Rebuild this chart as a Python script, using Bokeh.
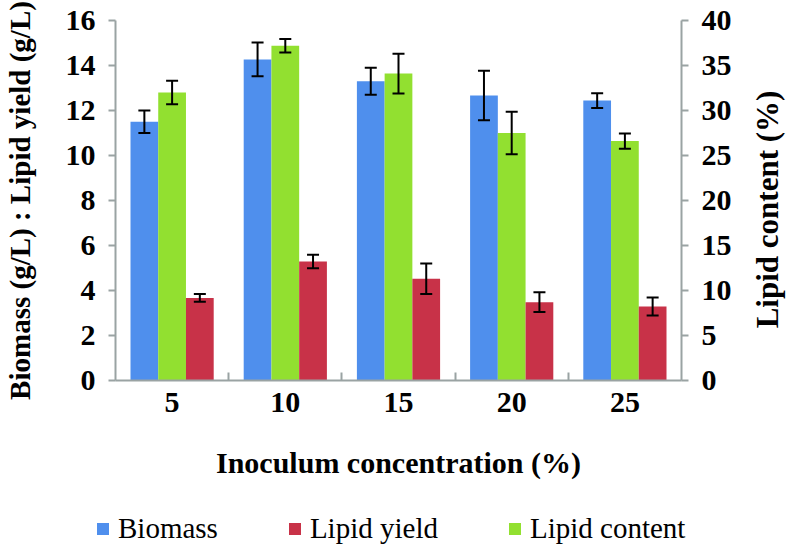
import numpy as np
from bokeh.plotting import figure
from bokeh.layouts import column, row
from bokeh.models import (Range1d, LinearAxis, FixedTicker, ColumnDataSource, Whisker,
                          TeeHead, Legend, LegendItem)
from bokeh.embed import file_html
from bokeh.resources import INLINE

concentrations = ["5", "10", "15", "20", "25"]
biomass = [11.5, 14.27, 13.3, 12.67, 12.44]
biomass_err = [0.5, 0.75, 0.6, 1.1, 0.33]
lipid_yield = [3.67, 5.29, 4.52, 3.48, 3.29]
lipid_yield_err = [0.17, 0.3, 0.68, 0.44, 0.4]
lipid_content = [32.0, 37.2, 34.1, 27.5, 26.6]
lipid_content_err = [1.3, 0.75, 2.2, 2.35, 0.85]
left_ticks = [0, 2, 4, 6, 8, 10, 12, 14, 16]
right_ticks = [0, 5, 10, 15, 20, 25, 30, 35, 40]

BLUE = "#4F8FED"
RED = "#C83248"
GREEN = "#92E030"
AXIS = "#9AA3A3"
FONT = "serif"

n = len(concentrations)
centers = np.arange(n) + 0.5
bw = 0.245

def clean(fig):
    fig.grid.visible = False
    fig.outline_line_color = None
    fig.background_fill_color = "white"
    fig.border_fill_color = "white"
    try:
        fig.frame_align = False
    except Exception:
        pass

p = figure(width=734, height=500, output_backend="svg", toolbar_location=None,
           x_range=Range1d(0, n), y_range=Range1d(0, left_ticks[-1]),
           min_border_left=113, min_border_right=52, min_border_top=20,
           min_border_bottom=120, x_axis_location=None, y_axis_location=None)
p.extra_y_ranges = {"right": Range1d(0, right_ticks[-1])}
clean(p)

def style_axis(ax):
    ax.axis_line_color = AXIS
    ax.axis_line_width = 2
    ax.major_tick_line_color = AXIS
    ax.major_tick_line_width = 2
    ax.minor_tick_line_color = AXIS
    ax.minor_tick_line_width = 2
    ax.major_label_text_font = FONT
    ax.major_label_text_font_style = "bold"
    ax.major_label_text_font_size = "30px"
    ax.major_label_text_color = "black"
    ax.axis_label_text_font = FONT
    ax.axis_label_text_font_style = "bold"
    ax.axis_label_text_font_size = "29px"
    ax.axis_label_text_color = "black"

xax = LinearAxis(ticker=FixedTicker(ticks=list(centers), minor_ticks=list(np.arange(1, n))),
                 axis_label="Inoculum concentration (%)")
xax.major_label_overrides = {float(c): lab for c, lab in zip(centers, concentrations)}
style_axis(xax)
xax.axis_label_text_font_size = "30px"
xax.major_tick_in = 0
xax.major_tick_out = 0
xax.minor_tick_in = 8
xax.minor_tick_out = 0
xax.major_label_standoff = 12
xax.axis_label_standoff = 31
p.add_layout(xax, "below")

lax = LinearAxis(ticker=FixedTicker(ticks=left_ticks), axis_label="Biomass (g/L) : Lipid yield (g/L)")
style_axis(lax)
lax.major_tick_in = 0
lax.major_tick_out = 7
lax.minor_tick_out = 0
lax.major_label_standoff = 13
lax.axis_label_standoff = 27
p.add_layout(lax, "left")

rax = LinearAxis(y_range_name="right", ticker=FixedTicker(ticks=right_ticks))
style_axis(rax)
rax.major_tick_in = 0
rax.major_tick_out = 7
rax.minor_tick_out = 0
rax.major_label_standoff = 13
p.add_layout(rax, "right")

src_b = ColumnDataSource(dict(x=centers - bw, top=biomass,
                              upper=np.array(biomass) + np.array(biomass_err),
                              lower=np.array(biomass) - np.array(biomass_err)))
src_c = ColumnDataSource(dict(x=centers, top=lipid_content,
                              upper=np.array(lipid_content) + np.array(lipid_content_err),
                              lower=np.array(lipid_content) - np.array(lipid_content_err)))
src_y = ColumnDataSource(dict(x=centers + bw, top=lipid_yield,
                              upper=np.array(lipid_yield) + np.array(lipid_yield_err),
                              lower=np.array(lipid_yield) - np.array(lipid_yield_err)))

p.vbar(x="x", top="top", width=bw, source=src_b, fill_color=BLUE, line_color=None)
p.vbar(x="x", top="top", width=bw, source=src_c, fill_color=GREEN, line_color=None,
       y_range_name="right")
p.vbar(x="x", top="top", width=bw, source=src_y, fill_color=RED, line_color=None)

for src, rname in ((src_b, "default"), (src_c, "right"), (src_y, "default")):
    w = Whisker(source=src, base="x", upper="upper", lower="lower", y_range_name=rname,
                line_color="black", line_width=2, level="overlay",
                upper_head=TeeHead(size=12, line_width=2, line_color="black"),
                lower_head=TeeHead(size=12, line_width=2, line_color="black"))
    p.add_layout(w)

# narrow strip holding the right-hand axis title (reads bottom to top)
r = figure(width=52, height=500, output_backend="svg", toolbar_location=None,
           x_range=Range1d(0, 1), y_range=Range1d(0, right_ticks[-1]),
           min_border_left=50, min_border_right=0, min_border_top=38,
           min_border_bottom=120, x_axis_location=None, y_axis_location=None)
clean(r)
tax = LinearAxis(ticker=FixedTicker(ticks=[]), axis_label="Lipid content (%)")
style_axis(tax)
tax.axis_label_text_font_size = "31px"
tax.axis_line_color = None
tax.major_tick_out = 0
tax.minor_tick_out = 0
tax.major_label_standoff = 0
tax.axis_label_standoff = 0
r.add_layout(tax, "left")

# legend strip below the chart (proxy renderers are hidden)
q = figure(width=786, height=50, output_backend="svg", toolbar_location=None,
           x_range=Range1d(0, n), y_range=Range1d(0, left_ticks[-1]),
           min_border_left=0, min_border_right=0, min_border_top=0, min_border_bottom=0,
           x_axis_location=None, y_axis_location=None)
clean(q)
lb = q.vbar(x="x", top="top", width=bw, source=src_b, fill_color=BLUE, line_color=None, visible=False)
ly = q.vbar(x="x", top="top", width=bw, source=src_y, fill_color=RED, line_color=None, visible=False)
lc = q.vbar(x="x", top="top", width=bw, source=src_c, fill_color=GREEN, line_color=None, visible=False)
legend = Legend(items=[LegendItem(label="Biomass", renderers=[lb]),
                       LegendItem(label="Lipid yield", renderers=[ly]),
                       LegendItem(label="Lipid content", renderers=[lc])],
                orientation="horizontal", location=(95, 5), spacing=69,
                padding=0, margin=0, border_line_color=None, background_fill_alpha=0,
                glyph_width=15, glyph_height=15, label_standoff=8,
                label_text_font="Liberation Serif", label_text_font_size="29px",
                label_text_color="black")
q.add_layout(legend, "center")

layout = column(row(p, r, spacing=0), q, spacing=0)
open("out.html", "w").write(file_html(layout, INLINE))
